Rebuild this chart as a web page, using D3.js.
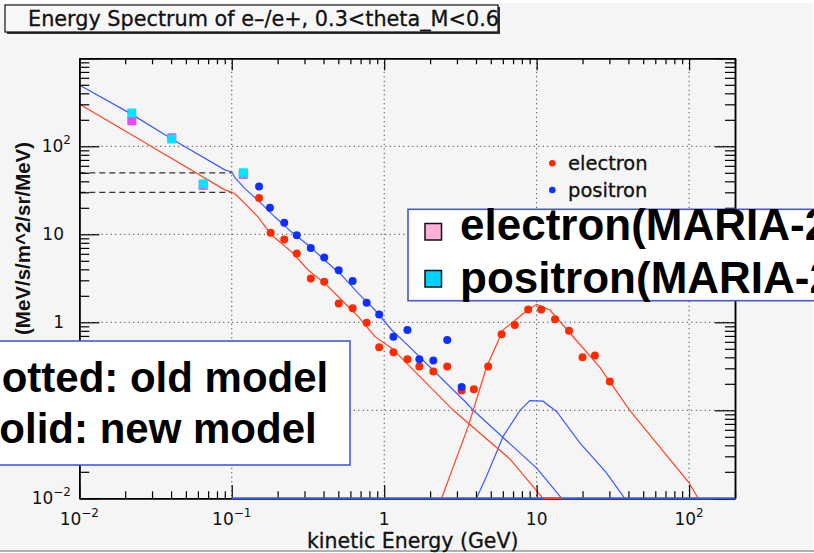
<!DOCTYPE html>
<html><head><meta charset="utf-8">
<script src="https://cdn.jsdelivr.net/npm/d3@7"></script>
<style>
html,body{margin:0;padding:0;background:#fff;overflow:hidden;}
svg{display:block;}
</style></head>
<body>
<svg id="c" width="814" height="553"></svg>
<script>
// ---- data ----
const titleText = "Energy Spectrum of e\u2013/e+, 0.3<theta_M<0.6";
const xTitle = "kinetic Energy (GeV)";
const yTitle = "(MeV/s/m^2/sr/MeV)";
const xMajor = [0.01, 0.1, 1, 10, 100];
const xMajorLabels = [["10","\u22122"],["10","\u22121"],["1",""],["10",""],["10","2"]];
const yMajor = [0.01, 1, 10, 100];   // 10^-1 label is hidden under the note box
const yMajorLabels = [["10","\u22122"],["1",""],["10",""],["10","2"]];
const gridVals = [0.1, 1, 10, 100];
const refLevels = [50, 30];          // dashed horizontal reference levels
const refRange = [0.01, 0.1];

// new model (solid lines)
const electronModel = [[0.01,302],[0.029,102],[0.09,32],[0.1,30],[0.105,28.9],[0.122,22.3],[0.149,15.7],[0.183,9.75],[0.247,6.31],[0.318,3.91],[0.408,2.77],[0.526,1.79],[0.676,1.16],[0.869,0.687],[1.12,0.508],[2.84,0.1],[6.67,0.028],[11,0.01]];
const positronModel = [[0.01,496],[0.022,232],[0.0404,121],[0.09,54],[0.1,51],[0.105,44],[0.122,33],[0.149,24.3],[0.192,15.7],[0.247,10.6],[0.318,7.5],[0.408,5.08],[0.526,3.43],[0.676,2.13],[0.869,1.38],[1.12,0.818],[1.37,0.587],[3.47,0.121],[3.84,0.1],[10,0.022],[14.6,0.01]];
const electronBump = [[2.38,0.01],[3.56,0.066],[4.69,0.31],[6.03,0.82],[8.17,1.26],[10,1.6],[12.2,1.38],[17.3,0.69],[25.9,0.31],[40.8,0.1],[100,0.015],[114.5,0.01]];
const positronBump = [[4.03,0.01],[4.69,0.0178],[6.03,0.0506],[7.77,0.1],[9.02,0.129],[11,0.127],[13.5,0.097],[19.2,0.0427],[28.7,0.0195],[37.8,0.01]];
const positronFloor = [[0.1,0.01],[200,0.01]];
const electronFloor = [[11,0.01],[14.6,0.01]];

// old model (dots)
const electronOldE = [0.151,0.180,0.221,0.267,0.330,0.404,0.503,0.621,0.767,0.927,1.15,1.42,1.70,2.10,2.59,3.22,3.87,4.81,5.89,7.19,8.80,10.7,13.2,16.3,20.0,24.1,30.2];
const electronOldF = [25.8,10.4,8.71,6.04,3.15,2.88,1.64,1.44,0.99,0.521,0.457,0.381,0.314,0.276,0.314,0.168,0.174,0.314,0.731,0.931,1.40,1.40,1.08,0.803,0.402,0.419,0.212];
const positronOldE = [0.151,0.178,0.221,0.267,0.330,0.404,0.503,0.621,0.767,0.927,1.15,1.42,1.70,2.10,2.59,3.22];
const positronOldF = [35.0,20.0,13.5,9.75,7.0,5.45,3.91,2.94,1.67,1.23,0.687,0.818,0.381,0.367,0.631,0.184];

// MARIA-2 measurements
const mariaE = [0.0221,0.0404,0.065,0.119];
const mariaElectron = [195,125,36,48];
const mariaPositron = [239,121,37.5,50];

const smallLegend = ["electron","positron"];
const bigLegend = ["electron(MARIA-2)","positron(MARIA-2)"];
const noteLines = ["dotted: old model","solid: new model"];

// ---- drawing ----
const svg = d3.select("#c");
const L = 79.3, R = 735, T = 58.3, B = 498.3;
const x = d3.scaleLog().domain([0.01, 200]).range([L, R]);
const y = d3.scaleLog().domain([0.01, 1000]).range([B, T]);

const RED_LINE = "#ff4422", BLUE_LINE = "#3a5aff";
const RED_DOT = "#ff2a00", BLUE_DOT = "#1030ff";

// background
svg.append("rect").attr("x",0).attr("y",0).attr("width",814).attr("height",553).attr("fill","#ffffff");
svg.append("rect").attr("x",0).attr("y",3).attr("width",813).attr("height",547).attr("fill","#f5f5f5");
svg.append("line").attr("x1",0).attr("x2",814).attr("y1",551).attr("y2",551).attr("stroke","#b0b0b0").attr("stroke-width",2);

svg.append("defs").append("clipPath").attr("id","pc")
  .append("rect").attr("x",L).attr("y",T).attr("width",R-L).attr("height",B-T+1);

// grid
const g = svg.append("g");
g.selectAll(".gx").data(gridVals).enter().append("line")
  .attr("x1",d=>x(d)).attr("x2",d=>x(d)).attr("y1",T).attr("y2",B)
  .attr("stroke","#222").attr("stroke-width",1).attr("stroke-dasharray","1,3.5");
g.selectAll(".gy").data(gridVals).enter().append("line")
  .attr("x1",L).attr("x2",R).attr("y1",d=>y(d)).attr("y2",d=>y(d))
  .attr("stroke","#222").attr("stroke-width",1).attr("stroke-dasharray","1,3.5");

// dashed reference lines
g.selectAll(".ref").data(refLevels).enter().append("line")
  .attr("x1",x(refRange[0])).attr("x2",x(refRange[1])).attr("y1",d=>y(d)).attr("y2",d=>y(d))
  .attr("stroke","#333").attr("stroke-width",1.2).attr("stroke-dasharray","6,4");

// model lines
const line = d3.line().x(d=>x(d[0])).y(d=>y(d[1]));
const lg = svg.append("g").attr("clip-path","url(#pc)");
[[positronModel,BLUE_LINE,1.2],[positronBump,BLUE_LINE,1.2],
 [electronModel,RED_LINE,1.2],[electronBump,RED_LINE,1.2]].forEach(([d,c,w])=>{
  lg.append("path").datum(d).attr("d",line).attr("fill","none").attr("stroke",c).attr("stroke-width",w);
});

// old model dots
const dots = svg.append("g");
dots.selectAll(".ed").data(electronOldE.map((e,i)=>[e,electronOldF[i]])).enter().append("circle")
  .attr("cx",d=>x(d[0])).attr("cy",d=>y(d[1])).attr("r",4).attr("fill",RED_DOT);
dots.selectAll(".pd").data(positronOldE.map((e,i)=>[e,positronOldF[i]])).enter().append("circle")
  .attr("cx",d=>x(d[0])).attr("cy",d=>y(d[1])).attr("r",4).attr("fill",BLUE_DOT);

// MARIA squares
const sq = 9;
dots.selectAll(".me").data(mariaE.map((e,i)=>[e,mariaElectron[i]])).enter().append("rect")
  .attr("x",d=>x(d[0])-sq/2).attr("y",d=>y(d[1])-sq/2).attr("width",sq).attr("height",sq).attr("fill","#f048f0");
dots.selectAll(".mp").data(mariaE.map((e,i)=>[e,mariaPositron[i]])).enter().append("rect")
  .attr("x",d=>x(d[0])-sq/2).attr("y",d=>y(d[1])-sq/2).attr("width",sq).attr("height",sq).attr("fill","#00e6ff");

// axes (ticks only; labels drawn separately)
const isMaj = v => Math.abs(Math.log10(v) - Math.round(Math.log10(v))) < 1e-6;
const xt = x.ticks(), yt = y.ticks();
function axisStyle(sel){ sel.selectAll("line").attr("stroke","#000").attr("stroke-width",1.2); sel.select(".domain").attr("stroke","#000").attr("stroke-width",1.5); sel.selectAll("text").remove(); }
svg.append("g").attr("transform",`translate(0,${B})`)
  .call(d3.axisTop(x).tickValues(xt.filter(v=>!isMaj(v))).tickSize(7).tickSizeOuter(0).tickFormat(""))
  .call(axisStyle);
svg.append("g").attr("transform",`translate(0,${B})`)
  .call(d3.axisTop(x).tickValues(xt.filter(isMaj)).tickSize(13).tickSizeOuter(0).tickFormat(""))
  .call(axisStyle);
svg.append("g").attr("transform",`translate(0,${T})`)
  .call(d3.axisBottom(x).tickValues(xt.filter(v=>!isMaj(v))).tickSize(6).tickSizeOuter(0).tickFormat(""))
  .call(axisStyle);
svg.append("g").attr("transform",`translate(0,${T})`)
  .call(d3.axisBottom(x).tickValues(xt.filter(isMaj)).tickSize(12).tickSizeOuter(0).tickFormat(""))
  .call(axisStyle);
svg.append("g").attr("transform",`translate(${L},0)`)
  .call(d3.axisRight(y).tickValues(yt.filter(v=>!isMaj(v))).tickSize(10).tickSizeOuter(0).tickFormat(""))
  .call(axisStyle);
svg.append("g").attr("transform",`translate(${L},0)`)
  .call(d3.axisRight(y).tickValues(yt.filter(isMaj)).tickSize(20).tickSizeOuter(0).tickFormat(""))
  .call(axisStyle);
svg.append("g").attr("transform",`translate(${R},0)`)
  .call(d3.axisLeft(y).tickValues(yt.filter(v=>!isMaj(v))).tickSize(10).tickSizeOuter(0).tickFormat(""))
  .call(axisStyle);
svg.append("g").attr("transform",`translate(${R},0)`)
  .call(d3.axisLeft(y).tickValues(yt.filter(isMaj)).tickSize(20).tickSizeOuter(0).tickFormat(""))
  .call(axisStyle);

// histogram floors drawn over the x axis
svg.append("path").datum(positronFloor).attr("d",line).attr("fill","none").attr("stroke",BLUE_LINE).attr("stroke-width",2).attr("clip-path","url(#pc)");
svg.append("path").datum(electronFloor).attr("d",line).attr("fill","none").attr("stroke",RED_LINE).attr("stroke-width",2).attr("clip-path","url(#pc)");

// tick labels
const tickFont = "DejaVu Sans";
xMajor.forEach((v,i)=>{
  const [b,e] = xMajorLabels[i];
  const t = svg.append("text").attr("x",x(v)).attr("y",525).attr("text-anchor","middle")
    .attr("font-family",tickFont).attr("font-size",17).attr("fill","#111");
  t.append("tspan").text(b);
  if(e) t.append("tspan").attr("dy",-8).attr("font-size",12).text(e);
});
yMajor.forEach((v,i)=>{
  const [b,e] = yMajorLabels[i];
  const t = svg.append("text").attr("x", e ? 71 : 64).attr("y",y(v)+6).attr("text-anchor","end")
    .attr("font-family",tickFont).attr("font-size",17).attr("fill","#111");
  t.append("tspan").text(b);
  if(e) t.append("tspan").attr("dy",-8).attr("font-size",12).text(e);
});

// axis titles
svg.append("text").attr("x",307).attr("y",548).attr("font-family","DejaVu Sans").attr("font-size",20.5)
  .attr("fill","#111").attr("stroke","#111").attr("stroke-width",0.3).text(xTitle);
svg.append("text").attr("transform","translate(30,335) rotate(-90)").attr("text-anchor","start")
  .attr("font-family","Liberation Sans").attr("font-weight","bold").attr("font-size",20.5)
  .attr("fill","#111").text(yTitle);

// title box
svg.append("rect").attr("x",7).attr("y",7).attr("width",493).attr("height",27).attr("fill","#333");
svg.append("rect").attr("x",5).attr("y",5).attr("width",493).attr("height",27).attr("fill","#f7f7f7")
  .attr("stroke","#111").attr("stroke-width",1.2);
svg.append("text").attr("x",28).attr("y",26).attr("font-family","DejaVu Sans").attr("font-size",21.5)
  .attr("textLength",471).attr("lengthAdjust","spacingAndGlyphs")
  .attr("fill","#111").attr("stroke","#111").attr("stroke-width",0.3).text(titleText);

// small legend (old model markers)
const sl = svg.append("g");
[RED_DOT, BLUE_DOT].forEach((c,i)=>{
  sl.append("circle").attr("cx",552.3).attr("cy",163.3+i*26.7).attr("r",3.3).attr("fill",c);
  sl.append("text").attr("x",568).attr("y",170+i*26.7).attr("font-family","DejaVu Sans").attr("font-size",19.5)
    .attr("fill","#111").attr("stroke","#111").attr("stroke-width",0.3).text(smallLegend[i]);
});

// big legend (MARIA-2)
svg.append("rect").attr("x",408).attr("y",209.3).attr("width",420).attr("height",91.4)
  .attr("fill","#ffffff").attr("stroke","#4a58d0").attr("stroke-width",1.6);
["#ffb0d8","#00d2ff"].forEach((c,i)=>{
  svg.append("rect").attr("x",425).attr("y",223.5+i*47).attr("width",16.5).attr("height",16.5)
    .attr("fill",c).attr("stroke","#111").attr("stroke-width",1.5);
  svg.append("text").attr("x",460).attr("y",240+i*53.3).attr("font-family","Liberation Sans")
    .attr("font-weight","bold").attr("font-size",44).attr("fill","#000").text(bigLegend[i]);
});

// note box
svg.append("rect").attr("x",-10).attr("y",341).attr("width",360).attr("height",124)
  .attr("fill","#ffffff").attr("stroke","#4a58d0").attr("stroke-width",1.6);
noteLines.forEach((s,i)=>{
  svg.append("text").attr("x",-24).attr("y",391.7+i*51.6).attr("font-family","Liberation Sans")
    .attr("font-weight","bold").attr("font-size",42).attr("fill","#000").text(s);
});
</script>
</body></html>
